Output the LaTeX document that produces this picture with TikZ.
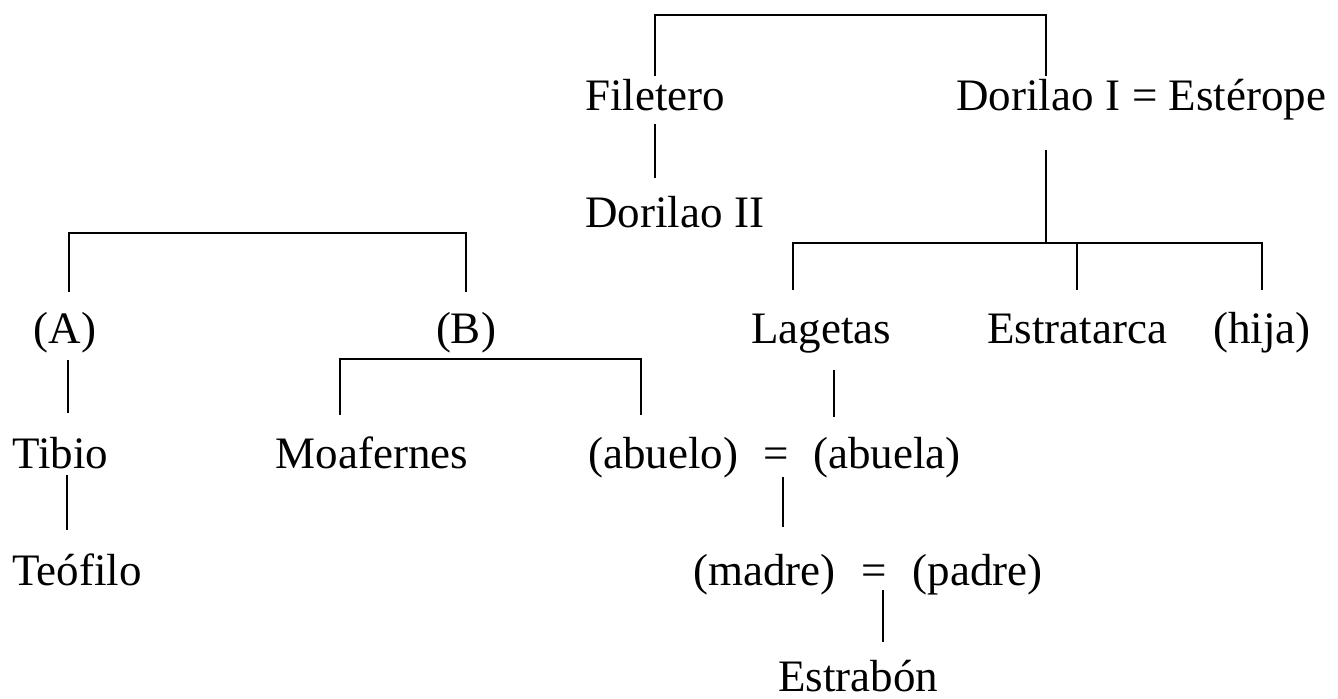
\documentclass[tikz,border=0pt]{standalone}
\usepackage{fontspec}
\setmainfont{Liberation Serif}
\usetikzlibrary{positioning}
\tikzstyle{person} = [inner sep=0pt, text height=16.9pt, text depth=6.75pt, anchor=base]
\tikzstyle{line} = [line width=1.1pt]

\begin{document}
\begin{tikzpicture}[x=0.5pt, y=-0.5pt, font=\fontsize{22.5}{27}\selectfont]
\useasboundingbox (0,0) rectangle (1338,698);

\node (filetero) [person, anchor=base west] at (585,110) {Filetero};
\node (dorilaoI) [person, anchor=base west] at (956,110) {Dorilao I};
\node (esterope) [person, base right=5.6pt of dorilaoI] {= Estérope};
\node (dorilaoII) [person, anchor=base west] at (585,227) {Dorilao II};

\node (hijoA) [person] at (65,343) {(A)};
\node (hijoB) [person] at (466,343) {(B)};
\node (lagetas) [person] at (821,343) {Lagetas};
\node (estratarca) [person] at (1077,343) {Estratarca};
\node (hija) [person] at (1262,343) {(hija)};

\node (tibio) [person, anchor=base west] at (12,468) {Tibio};
\node (moafernes) [person] at (372,468) {Moafernes};
\node (abuelo) [person, anchor=base west] at (588,468) {(abuelo)};
\node (eqA) [person, base right=12pt of abuelo] {=};
\node (abuela) [person, base right=12pt of eqA] {(abuela)};

\node (teofilo) [person, anchor=base west] at (12,585) {Teófilo};
\node (madre) [person, anchor=base west] at (693,585) {(madre)};
\node (eqB) [person, base right=12.5pt of madre] {=};
\node (padre) [person, base right=12.5pt of eqB] {(padre)};

\node (estrabon) [person] at (858,691) {Estrabón};

\draw [line] (filetero.north) -- ++(0,-61) -| ([xshift=4pt]dorilaoI.north);
\draw [line, shorten >=7.5pt] (filetero.south) -- (filetero.south |- dorilaoII.north);
\draw [line, shorten <=13pt] ([xshift=4pt]dorilaoI.south) -- ++(0,120);
\draw [line] ([xshift=-14pt, yshift=9.5pt]lagetas.north) -- ++(0,-47) -| ([yshift=9.5pt]hija.north);
\draw [line] ([yshift=9.5pt]estratarca.north) -- ++(0,-47);
\draw [line] ([xshift=2pt, yshift=8.5pt]hijoA.north) -- ++(0,-59) -| ([yshift=8.5pt]hijoB.north);
\draw [line, shorten <=1.75pt, shorten >=10.5pt] ([xshift=1.5pt]hijoA.south) -- ([xshift=1.5pt]hijoA.south |- tibio.north);
\draw [line, shorten <=-3.25pt, shorten >=10.5pt] ([xshift=3.5pt]tibio.south) -- ([xshift=3.5pt]tibio.south |- teofilo.north);
\draw [line] ([xshift=-16pt, yshift=9.5pt]moafernes.north) -- ++(0,-56) -| ([xshift=-11pt, yshift=9.5pt]abuelo.north);
\draw [line, shorten <=6.75pt, shorten >=8.5pt] ([xshift=6.5pt]lagetas.south) -- ([xshift=6.5pt]lagetas.south |- abuela.north);
\draw [line, shorten <=-2.25pt, shorten >=12pt] ([xshift=3.5pt]eqA.south) -- ([xshift=3.5pt]eqA.south |- madre.north);
\draw [line, shorten <=-4.25pt, shorten >=7.5pt] ([xshift=4.5pt]eqB.south) -- ([xshift=4.5pt]eqB.south |- estrabon.north);

\end{tikzpicture}
\end{document}
